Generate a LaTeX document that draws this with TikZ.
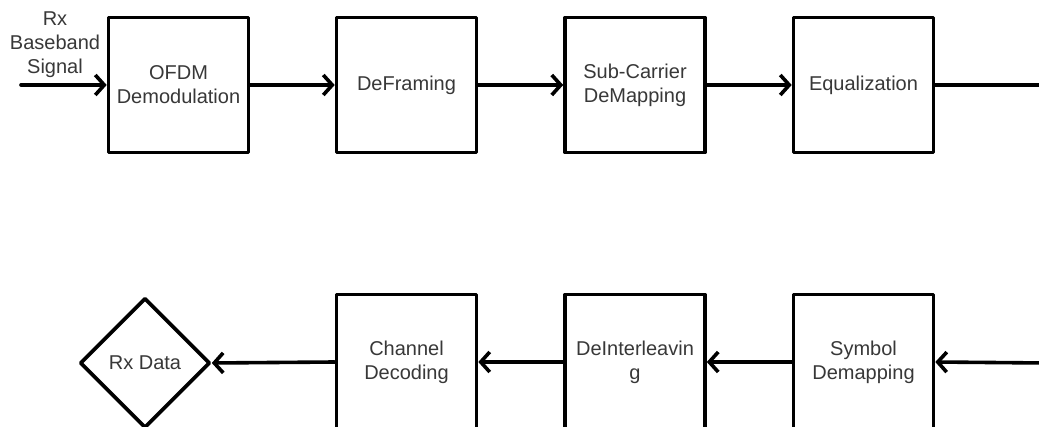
\documentclass[tikz,border=0pt]{standalone}
\usepackage{fontspec}
\setmainfont{Liberation Sans}
\usetikzlibrary{arrows.meta,shapes.geometric}
\definecolor{labelgray}{HTML}{383838}
\begin{document}
\begin{tikzpicture}[x=1pt,y=-1pt,
  every node/.style={font=\fontsize{20}{24}\selectfont, text=labelgray},
  block/.style={draw=black, line width=3.6pt, line join=round, minimum width=140pt,
    minimum height=135pt, inner sep=0pt, align=center},
  terminal/.style={draw=black, line width=3.6pt, line join=round, diamond, aspect=1,
    minimum width=130pt, minimum height=130pt, inner sep=0pt, align=center},
  conn/.style={draw=black, line width=3.6pt, line cap=round,
    -{Straight Barb[length=9pt,width=20pt,line width=3.6pt]}},
  wire/.style={draw=black, line width=3.6pt, line cap=round}]
\clip (0,0) rectangle (1039,427);
\fill[white] (0,0) rectangle (1039,427);

% receiver front end (top row)
\node[block] (ofdm)  at (178.5,85) {OFDM\\Demodulation};
\node[block] (defr)  at (406.5,85) {DeFraming};
\node[block] (scdm)  at (635,85)   {Sub-Carrier\\DeMapping};
\node[block] (equal) at (863.5,85) {Equalization};

% decoding chain (bottom row)
\node[block] (symd)  at (863.5,362) {Symbol\\Demapping};
\node[block] (deint) at (635,362)   {DeInterleavin\\g};
\node[block] (chdec) at (406.5,362) {Channel\\Decoding};
\node[terminal] (rxd) at (145,363) {Rx Data};

\coordinate (src) at (21,85);
\coordinate (outR) at (1045,85);
\coordinate (inR) at (1045,363);
\node[align=center] (srclbl) at (55,45) {Rx\\Baseband\\Signal};

\draw[conn] (src) -- (ofdm.west);
\draw[conn] (ofdm.east) -- (defr.west);
\draw[conn] (defr.east) -- (scdm.west);
\draw[conn] (scdm.east) -- (equal.west);
\draw[wire] (equal.east) -- (outR);

\draw[conn] (inR) -- (symd.east);
\draw[conn] (symd.west) -- (deint.east);
\draw[conn] (deint.west) -- (chdec.east);
\draw[conn] (chdec.west) -- (rxd.east);
\end{tikzpicture}
\end{document}
